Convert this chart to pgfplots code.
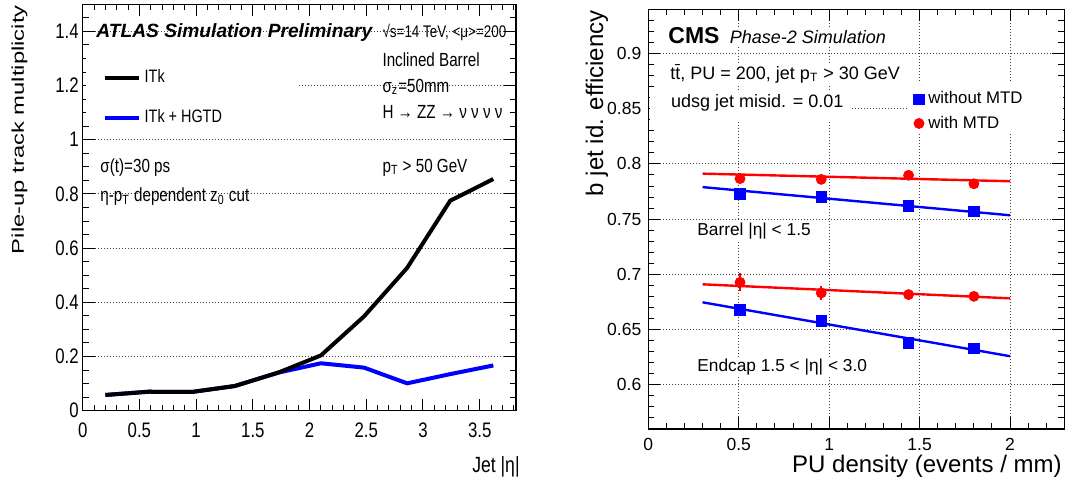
\documentclass[border=0pt]{standalone}
\usepackage{fontspec}
\setmainfont{Liberation Sans}
\newfontfamily\condfont[FakeStretch=0.8]{Liberation Sans}
\newfontfamily\tallfont[FakeStretch=1.4]{Liberation Sans}
\usepackage{pgfplots}
\pgfplotsset{compat=1.18}

\pgfplotsset{
  rootaxis/.style={
    scale only axis, anchor=south west,
    axis line style={black, line width=0.6pt},
    tick pos=both, tick align=inside,
    major tick length=6pt, minor tick length=3pt,
    every tick/.style={black, line width=0.5pt},
    grid style={black!75, dash pattern=on 0.5pt off 1pt, line width=0.45pt},
    /pgf/number format/assume math mode=true,
  }
}

\begin{document}
\begin{tikzpicture}
\path[use as bounding box] (0,0) rectangle (534pt,242.5pt);

% ---- left: ATLAS pile-up track multiplicity
\begin{axis}[rootaxis,
    at={(41.35pt,37.15pt)}, width=216.65pt, height=203.2pt,
    xmin=0, xmax=3.82, ymin=0, ymax=1.5,
    xtick={0,0.5,1,1.5,2,2.5,3,3.5},
    minor xtick={0.1,0.2,0.3,0.4,0.6,0.7,0.8,0.9,1.1,1.2,1.3,1.4,1.6,1.7,1.8,1.9,2.1,2.2,2.3,2.4,2.6,2.7,2.8,2.9,3.1,3.2,3.3,3.4,3.6,3.7,3.8},
    ytick={0,0.2,0.4,0.6,0.8,1,1.2,1.4},
    minor ytick={0.05,0.1,0.15,0.25,0.3,0.35,0.45,0.5,0.55,0.65,0.7,0.75,0.85,0.9,0.95,1.05,1.1,1.15,1.25,1.3,1.35,1.45},
    ymajorgrids,
    tick label style={font=\condfont\fontsize{10.5}{12}\selectfont},
    yticklabel style={xshift=1.5pt},
    xticklabel style={yshift=-2.5pt},
    legend style={at={(axis cs:0.12,1.29)}, anchor=north west, draw=none, fill=none,
      font=\condfont\fontsize{9}{11}\selectfont, row sep=8pt},
    legend cell align=left,
    legend image code/.code={\draw[#1] (0pt,0pt) -- (17pt,0pt);},
]
  \fill[white] (axis cs:0.03,1.05) rectangle (axis cs:1.888,1.33);
  \addplot[blue, line width=2pt, forget plot] coordinates {
    (0.2,0.058) (0.58,0.070) (0.96,0.069) (1.34,0.091) (1.72,0.140)
    (2.1,0.175) (2.48,0.159) (2.86,0.101) (3.24,0.135) (3.62,0.167)};
  \addplot[black, line width=2pt] coordinates {
    (0.2,0.058) (0.58,0.070) (0.96,0.069) (1.34,0.091) (1.72,0.140)
    (2.1,0.204) (2.48,0.348) (2.86,0.527) (3.24,0.775) (3.62,0.855)};
  \addlegendentry{ITk}
  \addlegendimage{blue, line width=2pt}
  \addlegendentry{ITk + HGTD}
  \node[anchor=base west, inner sep=0pt, font=\bfseries\itshape\fontsize{9.6}{11}\selectfont] at (axis cs:0.117,1.376) {ATLAS Simulation Preliminary};
  \begin{scope}[every node/.style={anchor=base west, font=\condfont\fontsize{9.5}{11}\selectfont, inner sep=0pt}]
    \node[font=\condfont\fontsize{8.4}{10}\selectfont] at (axis cs:2.64,1.376) {√s=14 TeV, <μ>=200};
    \node at (axis cs:2.64,1.272) {Inclined Barrel};
    \node at (axis cs:2.64,1.176) {σ\textsubscript{z}=50mm};
    \node at (axis cs:2.64,1.080) {H → ZZ → ν ν ν ν};
    \node at (axis cs:2.64,0.881) {p\textsubscript{T} > 50 GeV};
    \node at (axis cs:0.153,0.881) {σ(t)=30 ps};
    \node at (axis cs:0.153,0.773) {η-p\textsubscript{T} dependent z\textsubscript{0} cut};
  \end{scope}
\end{axis}
\node[rotate=90, anchor=base east, inner sep=0pt, font=\tallfont\fontsize{8.5}{10}\selectfont] at (12pt,240pt) {Pile-up track multiplicity};
\node[anchor=base east, inner sep=0pt, font=\condfont\fontsize{11}{13}\selectfont] at (260pt,6pt) {Jet |η|};

% ---- right: CMS b-tagging efficiency vs PU density
\begin{axis}[rootaxis,
    at={(324.15pt,28pt)}, width=208pt, height=209.85pt,
    xmin=0, xmax=2.3, ymin=0.56, ymax=0.94,
    xtick={0,0.5,1,1.5,2},
    minor xtick={0.1,0.2,0.3,0.4,0.6,0.7,0.8,0.9,1.1,1.2,1.3,1.4,1.6,1.7,1.8,1.9,2.1,2.2},
    ytick={0.6,0.65,0.7,0.75,0.8,0.85,0.9},
    minor ytick={0.57,0.58,0.59,0.61,0.62,0.63,0.64,0.66,0.67,0.68,0.69,0.71,0.72,0.73,0.74,0.76,0.77,0.78,0.79,0.81,0.82,0.83,0.84,0.86,0.87,0.88,0.89,0.91,0.92,0.93},
    grid=major,
    tick label style={font=\fontsize{8.75}{10}\selectfont},
    xticklabel style={yshift=-1pt},
    legend style={at={(axis cs:1.432,0.873)}, anchor=north west, draw=none, fill=none,
      font=\fontsize{8.4}{10}\selectfont, row sep=0.5pt, inner xsep=3pt},
    legend cell align=left,
    legend image code/.code={\draw[#1] plot coordinates {(0pt,0pt)};},
]
  \fill[white] (axis cs:1.432,0.828) rectangle (axis cs:2.29,0.873);
  \fill[white] (axis cs:0.01,0.840) rectangle (axis cs:1.127,0.862);
  % fits
  \addplot[blue, line width=1.2pt, forget plot] coordinates {(0.3,0.7790) (2.0,0.7535)};
  \addplot[red, line width=1.2pt, forget plot] coordinates {(0.3,0.7912) (2.0,0.7843)};
  \addplot[blue, line width=1.2pt, forget plot] coordinates {(0.3,0.6747) (2.0,0.6259)};
  \addplot[red, line width=1.2pt, forget plot] coordinates {(0.3,0.6910) (2.0,0.6783)};
  % barrel
  \addplot[only marks, mark=square*, mark size=2.65pt, color=blue] coordinates {
    (0.507,0.773) (0.956,0.770) (1.439,0.762) (1.80,0.757)};
  \addlegendentry{without MTD}
  \addplot[only marks, mark=*, mark size=2.5pt, color=red,
    error bars/.cd, y dir=both, y explicit, error bar style={line width=0.8pt}, error mark=none] coordinates {
    (0.507,0.7867) +- (0,0.002) (0.956,0.786) +- (0,0.002) (1.439,0.7897) +- (0,0.002) (1.80,0.782) +- (0,0.002)};
  \addlegendentry{with MTD}
  % endcap
  \addplot[only marks, mark=square*, mark size=2.65pt, color=blue, forget plot] coordinates {
    (0.507,0.668) (0.956,0.658) (1.439,0.638) (1.80,0.633)};
  \addplot[only marks, mark=*, mark size=2.5pt, color=red, forget plot,
    error bars/.cd, y dir=both, y explicit, error bar style={line width=0.8pt}, error mark=none] coordinates {
    (0.507,0.6928) +- (0,0.008) (0.956,0.6832) +- (0,0.006) (1.439,0.6817) +- (0,0.002) (1.80,0.6801) +- (0,0.002)};
  \node[anchor=base west, inner sep=1pt, fill=white, font=\bfseries\fontsize{11.5}{13}\selectfont] at (axis cs:0.098,0.9093) {CMS};
  \node[anchor=base west, inner sep=1pt, fill=white, font=\itshape\fontsize{9}{11}\selectfont] at (axis cs:0.438,0.9093) {Phase-2 Simulation};
  \begin{scope}[every node/.style={anchor=base west, inner sep=1pt, fill=white, font=\fontsize{9}{11}\selectfont}]
    \node at (axis cs:0.109,0.8768) {t\={t}, PU = 200, jet p\textsubscript{T} > 30 GeV};
    \node at (axis cs:0.1125,0.8514) {udsg jet misid. = 0.01};
    \node[font=\fontsize{8.65}{10}\selectfont] at (axis cs:0.258,0.7348) {Barrel |η| < 1.5};
    \node[font=\fontsize{8.65}{10}\selectfont] at (axis cs:0.258,0.6119) {Endcap 1.5 < |η| < 3.0};
  \end{scope}
\end{axis}
\node[rotate=90, anchor=base east, inner sep=0pt, font=\fontsize{12}{14}\selectfont] at (301.5pt,237.5pt) {b jet id. efficiency};
\node[anchor=base east, inner sep=0pt, font=\fontsize{12}{14}\selectfont] at (531pt,6pt) {PU density (events / mm)};
\end{tikzpicture}
\end{document}
